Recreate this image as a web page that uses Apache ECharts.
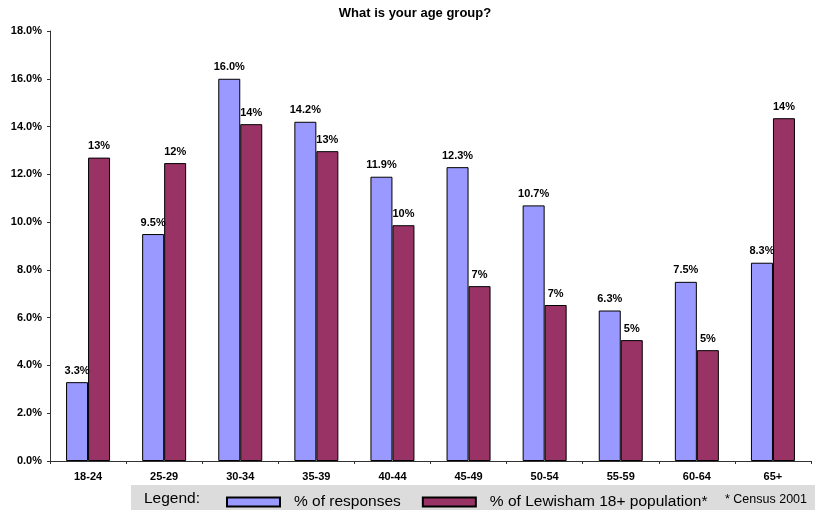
<!DOCTYPE html>
<html>
<head>
<meta charset="utf-8">
<script src="https://cdn.jsdelivr.net/npm/echarts@6/dist/echarts.min.js"></script>
<style>
  html, body { margin: 0; padding: 0; background: #fff; }
  #chart { width: 815px; height: 510px; }
</style>
</head>
<body>
<div id="chart"></div>
<script>
// Age groups of survey respondents versus the borough population
const ageGroups = ['18-24', '25-29', '30-34', '35-39', '40-44', '45-49', '50-54', '55-59', '60-64', '65+'];
const responses = [3.3, 9.5, 16.0, 14.2, 11.9, 12.3, 10.7, 6.3, 7.5, 8.3];
const population = [12.7, 12.47, 14.1, 12.97, 9.87, 7.32, 6.53, 5.06, 4.64, 14.35];
const seriesNames = ['% of responses', '% of Lewisham 18+ population*'];
const yTicks = { min: 0, max: 18, interval: 2 };

const FONT = '"Liberation Sans", Arial, sans-serif';
const chart = echarts.init(document.getElementById('chart'));

const labelStyle = {
  show: true,
  position: 'top',
  distance: 6,
  fontFamily: FONT,
  fontWeight: 'bold',
  fontSize: 11,
  color: '#000'
};

chart.setOption({
  animation: false,
  backgroundColor: '#fff',
  title: {
    text: 'What is your age group?',
    left: 410,
    textAlign: 'center',
    top: 2,
    textStyle: { fontFamily: FONT, fontWeight: 'bold', fontSize: 13, color: '#000' }
  },
  grid: { left: 50, right: 4, top: 31, bottom: 49 },
  xAxis: {
    type: 'category',
    data: ageGroups,
    axisLine: { lineStyle: { color: '#333', width: 1 } },
    axisTick: { show: true, length: 3, lineStyle: { color: '#333' } },
    axisLabel: { fontFamily: FONT, fontWeight: 'bold', fontSize: 11, color: '#000', margin: 10 }
  },
  yAxis: {
    type: 'value',
    min: yTicks.min,
    max: yTicks.max,
    interval: yTicks.interval,
    splitLine: { show: false },
    axisLine: { show: true, lineStyle: { color: '#333', width: 1 } },
    axisTick: { show: true, length: 3, lineStyle: { color: '#333' } },
    axisLabel: {
      fontFamily: FONT, fontWeight: 'bold', fontSize: 11, color: '#000', margin: 8,
      formatter: v => v.toFixed(1) + '%'
    }
  },
  legend: {
    left: 226,
    top: 494,
    padding: 0,
    icon: 'rect',
    itemWidth: 53,
    itemHeight: 9,
    itemGap: 21,
    textStyle: { fontFamily: FONT, fontSize: 15.5, color: '#000', padding: [0, 0, 0, 9] },
    data: seriesNames
  },
  graphic: [
    {
      type: 'rect',
      z: -1,
      shape: { x: 131, y: 485, width: 684, height: 25 },
      style: { fill: '#dcdcdc' }
    },
    {
      type: 'text',
      left: 144,
      top: 491,
      style: { text: 'Legend:', font: '15.5px ' + FONT, fill: '#000' }
    },
    {
      type: 'text',
      left: 725,
      top: 493,
      style: { text: '* Census 2001', font: '12.5px ' + FONT, fill: '#000' }
    }
  ],
  series: [
    {
      name: seriesNames[0],
      type: 'bar',
      data: responses,
      barWidth: 22,
      barGap: '0%',
      itemStyle: { color: '#9999ff', borderColor: '#000', borderWidth: 1 },
      label: Object.assign({}, labelStyle, { formatter: p => p.value.toFixed(1) + '%' })
    },
    {
      name: seriesNames[1],
      type: 'bar',
      data: population,
      barWidth: 22,
      barGap: '0%',
      itemStyle: { color: '#993366', borderColor: '#000', borderWidth: 1 },
      label: Object.assign({}, labelStyle, { formatter: p => p.value.toFixed(0) + '%' })
    }
  ]
});
</script>
</body>
</html>
